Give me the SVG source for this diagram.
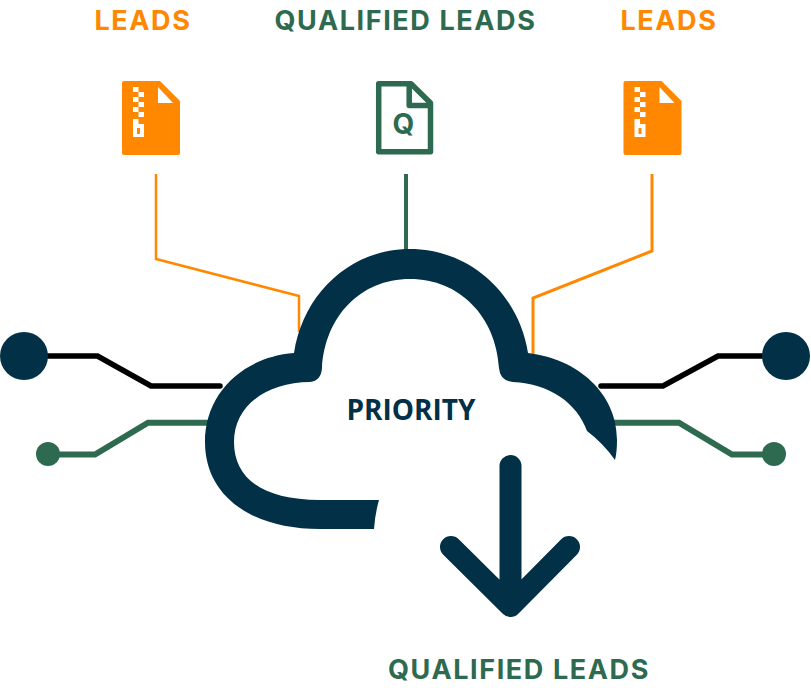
<svg xmlns="http://www.w3.org/2000/svg" width="811" height="688" viewBox="0 0 811 688">
<style>
.t{font-family:"Inter","Liberation Sans",sans-serif;font-size:27px;font-weight:700;letter-spacing:1.6px;text-anchor:middle}
.o{fill:#ff8800}.g{fill:#2d6a4f}.n{fill:#023047}
.l{fill:none;stroke-linejoin:miter}
.w{fill:#fff}
</style>
<defs>
<g id="zip">
<rect class="w" x="133" y="87" width="5.500" height="5"/>
<rect class="w" x="138.500" y="92" width="5.500" height="5"/>
<rect class="w" x="133" y="97" width="5.500" height="5"/>
<rect class="w" x="138.500" y="102" width="5.500" height="5"/>
<rect class="w" x="133" y="107" width="5.500" height="5"/>
<rect class="w" x="138.500" y="112" width="5.500" height="5"/>
<path class="w" fill-rule="evenodd" d="M133 119H138.500V124H144V137H133ZM137 128V134H140V128Z"/>
<path class="w" d="M158 87V103H173Z"/>
</g>
</defs>
<rect width="811" height="688" fill="#fff"/>
<g id="connectors">
<path class="l" d="M156 174V259L299 296V332" stroke="#ff8800" stroke-width="2.500"/>
<path class="l" d="M406 174V250" stroke="#2d6a4f" stroke-width="4"/>
<path class="l" d="M652 174V251L533 298V354" stroke="#ff8800" stroke-width="3"/>
<path class="l" d="M24 356H97.500L151 386H220" stroke="#000" stroke-width="5.500" stroke-linecap="round"/>
<path class="l" d="M48 454.500H95L148 422.800H208" stroke="#2d6a4f" stroke-width="6"/>
<circle cx="24" cy="356" r="24" fill="#023047"/>
<circle cx="48" cy="454" r="12" fill="#2d6a4f"/>
<path class="l" d="M786 356H718L663 386H601" stroke="#000" stroke-width="5.500" stroke-linecap="round"/>
<path class="l" d="M774 454.500H732L679 422.800H614" stroke="#2d6a4f" stroke-width="6"/>
<circle cx="786" cy="356" r="24" fill="#023047"/>
<circle cx="774" cy="454" r="12" fill="#2d6a4f"/>
</g>
<g id="label-leads-left"><text class="t o" x="143" y="30">LEADS</text></g>
<g id="label-qualified-top"><text class="t g" x="405.500" y="30">QUALIFIED LEADS</text></g>
<g id="label-leads-right"><text class="t o" x="669" y="30">LEADS</text></g>
<g id="file-left">
<path class="o" d="M124 81H160L180 101V153Q180 155 178 155H124Q122 155 122 153V83Q122 81 124 81Z"/>
<use href="#zip"/>
</g>
<g id="file-center">
<path fill="none" stroke="#2d6a4f" stroke-width="5.500" stroke-linejoin="round" d="M378.700 83.700H411L430.500 103V151.800H378.700Z"/>
<path fill="none" stroke="#2d6a4f" stroke-width="5.500" stroke-linejoin="round" d="M409.200 84V105.500H431"/>
<text x="403.500" y="134" font-family="'Inter','Liberation Sans',sans-serif" font-weight="700" font-size="28" fill="#2d6a4f" text-anchor="middle">Q</text>
</g>
<g id="file-right">
<path class="o" d="M625.500 81H661.500L681.500 101V153Q681.500 155 679.500 155H625.500Q623.500 155 623.500 153V83Q623.500 81 625.500 81Z"/>
<use href="#zip" x="501.500"/>
</g>
<g id="cloud">
<path class="n" d="M374 529H320C250 529 205 495 205 442C205 393 243 357 294 353C303 294 350 249 410 249C470 249 519 294 528 353C578 359 617 393 617 440Q617 452 615 460Q603 443 587 431C577 403 550 384 513 382Q500 381 499 368C496 317 460 279 410 279C360 279 325 317 322 368Q321 381 310 382C268 382 234 405 234 442C234 478 262 500 320 500H379Q375 514 374 529Z"/>
<text x="411" y="420" font-family="'Open Sans','Liberation Sans',sans-serif" font-weight="700" font-size="28" fill="#023047" text-anchor="middle">PRIORITY</text>
</g>
<g id="arrow">
<path fill="none" stroke="#023047" stroke-width="22" stroke-linecap="round" stroke-linejoin="round" d="M510.500 466V606M451 547L510.500 606L569 547"/>
</g>
<g id="label-qualified-bottom"><text class="t g" x="519" y="679">QUALIFIED LEADS</text></g>
</svg>
